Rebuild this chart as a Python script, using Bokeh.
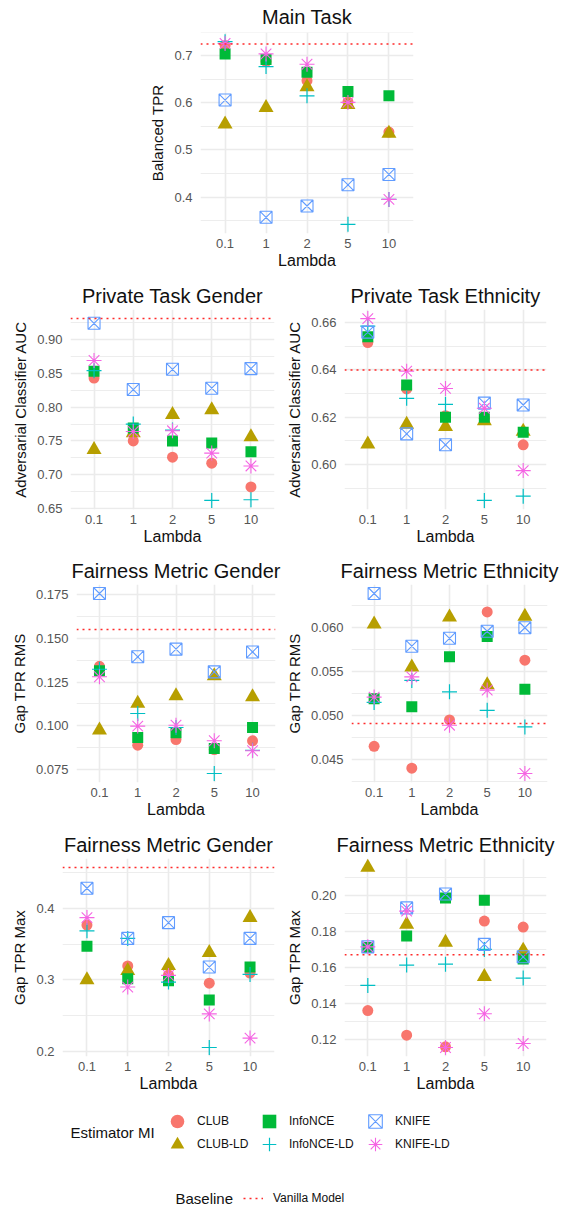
import numpy as np
from bokeh.plotting import figure
from bokeh.models import (FactorRange, Range1d, FixedTicker, PrintfTickFormatter,
                          Span, Legend, LegendItem, Label)
from bokeh.layouts import column, row
from bokeh.embed import file_html
from bokeh.resources import INLINE

# ---------------- data ----------------
LAMBDAS = ["0.1", "1", "2", "5", "10"]
ESTIMATORS = ["CLUB", "CLUB-LD", "InfoNCE", "InfoNCE-LD", "KNIFE", "KNIFE-LD"]

main_task = {
    "CLUB":       [0.722, 0.688, 0.647, 0.602, 0.538],
    "CLUB-LD":    [0.555, 0.590, 0.634, 0.596, 0.535],
    "InfoNCE":    [0.704, 0.692, 0.665, 0.624, 0.615],
    "InfoNCE-LD": [0.730, 0.677, 0.615, 0.342, 0.395],
    "KNIFE":      [0.606, 0.357, 0.381, 0.426, 0.448],
    "KNIFE-LD":   [0.726, 0.704, 0.682, 0.601, 0.395],
}
main_task_baseline = 0.725

private_gender = {
    "CLUB":       [0.843, 0.750, 0.726, 0.717, 0.682],
    "CLUB-LD":    [0.737, 0.762, 0.789, 0.796, 0.756],
    "InfoNCE":    [0.853, 0.769, 0.750, 0.747, 0.734],
    "InfoNCE-LD": [0.854, 0.775, 0.766, 0.662, 0.663],
    "KNIFE":      [0.924, 0.826, 0.856, 0.828, 0.857],
    "KNIFE-LD":   [0.869, 0.764, 0.765, 0.732, 0.713],
}
private_gender_baseline = 0.931

private_ethnicity = {
    "CLUB":       [0.6516, 0.6320, 0.6207, 0.6196, 0.6084],
    "CLUB-LD":    [0.6087, 0.6170, 0.6160, 0.6185, 0.6140],
    "InfoNCE":    [0.6540, 0.6336, 0.6200, 0.6200, 0.6137],
    "InfoNCE-LD": [0.6585, 0.6280, 0.6255, 0.5849, 0.5867],
    "KNIFE":      [0.6560, 0.6130, 0.6084, 0.6260, 0.6252],
    "KNIFE-LD":   [0.6617, 0.6395, 0.6322, 0.6238, 0.5975],
}
private_ethnicity_baseline = 0.640

gap_rms_gender = {
    "CLUB":       [0.1340, 0.0889, 0.0921, 0.0864, 0.0914],
    "CLUB-LD":    [0.0975, 0.1127, 0.1170, 0.1285, 0.1165],
    "InfoNCE":    [0.1314, 0.0933, 0.0960, 0.0870, 0.0990],
    "InfoNCE-LD": [0.1323, 0.1070, 0.0990, 0.0727, 0.0860],
    "KNIFE":      [0.1756, 0.1394, 0.1438, 0.1308, 0.1422],
    "KNIFE-LD":   [0.1280, 0.0998, 0.1003, 0.0914, 0.0857],
}
gap_rms_gender_baseline = 0.155

gap_rms_ethnicity = {
    "CLUB":       [0.0465, 0.0440, 0.0495, 0.0618, 0.0563],
    "CLUB-LD":    [0.0604, 0.0555, 0.0612, 0.0535, 0.0613],
    "InfoNCE":    [0.0519, 0.0510, 0.0567, 0.0590, 0.0530],
    "InfoNCE-LD": [0.0515, 0.0540, 0.0527, 0.0506, 0.0487],
    "KNIFE":      [0.0639, 0.0579, 0.0588, 0.0596, 0.0600],
    "KNIFE-LD":   [0.0521, 0.0544, 0.0489, 0.0529, 0.0434],
}
gap_rms_ethnicity_baseline = 0.0491

gap_max_gender = {
    "CLUB":       [0.3766, 0.3195, 0.3070, 0.2955, 0.3096],
    "CLUB-LD":    [0.3000, 0.3130, 0.3200, 0.3380, 0.3870],
    "InfoNCE":    [0.3470, 0.3016, 0.2990, 0.2720, 0.3180],
    "InfoNCE-LD": [0.3686, 0.3580, 0.2970, 0.2056, 0.3077],
    "KNIFE":      [0.4280, 0.3580, 0.3800, 0.3180, 0.3580],
    "KNIFE-LD":   [0.3870, 0.2900, 0.3063, 0.2525, 0.2187],
}
gap_max_gender_baseline = 0.457

gap_max_ethnicity = {
    "CLUB":       [0.1361, 0.1224, 0.1160, 0.1857, 0.1824],
    "CLUB-LD":    [0.2154, 0.1839, 0.1738, 0.1549, 0.1695],
    "InfoNCE":    [0.1710, 0.1774, 0.1985, 0.1972, 0.1646],
    "InfoNCE-LD": [0.1500, 0.1613, 0.1618, 0.1700, 0.1541],
    "KNIFE":      [0.1714, 0.1930, 0.2007, 0.1728, 0.1659],
    "KNIFE-LD":   [0.1714, 0.1912, 0.1156, 0.1343, 0.1178],
}
gap_max_ethnicity_baseline = 0.167

# tick labels
ticks_main = [0.4, 0.5, 0.6, 0.7]
minor_main = [0.35, 0.45, 0.55, 0.65, 0.75]
ticks_pg = [0.65, 0.70, 0.75, 0.80, 0.85, 0.90]
minor_pg = [0.675, 0.725, 0.775, 0.825, 0.875, 0.925]
ticks_pe = [0.60, 0.62, 0.64, 0.66]
minor_pe = [0.59, 0.61, 0.63, 0.65]
ticks_rg = [0.075, 0.100, 0.125, 0.150, 0.175]
minor_rg = [0.0875, 0.1125, 0.1375, 0.1625]
ticks_re = [0.045, 0.050, 0.055, 0.060]
minor_re = [0.0425, 0.0475, 0.0525, 0.0575, 0.0625]
ticks_mg = [0.2, 0.3, 0.4]
minor_mg = [0.25, 0.35, 0.45]
ticks_me = [0.12, 0.14, 0.16, 0.18, 0.20]
minor_me = [0.13, 0.15, 0.17, 0.19, 0.21]

# ---------------- style ----------------
FONT = "Liberation Sans"
GRID = "#EBEBEB"
TICK_COLOR = "#555555"
BASE_COLOR = "#FF2A2A"

STYLE = {
    "CLUB":       dict(marker="circle", size=11, fill_color="#F8766D", line_color=None),
    "CLUB-LD":    dict(marker="triangle", size=15, fill_color="#B79F00", line_color=None),
    "InfoNCE":    dict(marker="square", size=11, fill_color="#00BA38", line_color=None),
    "InfoNCE-LD": dict(marker="cross", size=15, line_color="#00BFC4", line_width=1.2, fill_color=None),
    "KNIFE":      dict(marker="square_x", size=12, line_color="#619CFF", line_width=1.1, fill_color=None),
    "KNIFE-LD":   dict(marker="asterisk", size=15, line_color="#F564E3", line_width=1.1, fill_color=None),
}

TOTAL_W = 564
HALF_W = 282


def panel(title, ylabel, data, baseline, major, minor, fmt, width, height, bl, br, bt, bb):
    vals = [v for k in ESTIMATORS for v in data[k]] + [baseline]
    lo, hi = min(vals), max(vals)
    pad = (hi - lo) * 0.05
    p = figure(width=width, height=height,
               x_range=FactorRange(factors=LAMBDAS, range_padding=0.1, range_padding_units="absolute"),
               y_range=Range1d(lo - pad, hi + pad),
               output_backend="svg", toolbar_location=None,
               min_border_left=bl, min_border_right=br, min_border_top=bt, min_border_bottom=bb,
               title=title, x_axis_label="Lambda", y_axis_label=ylabel)
    p.outline_line_color = None
    p.background_fill_color = "white"
    p.border_fill_color = "white"
    p.title.text_font = FONT
    p.title.text_font_size = "20px"
    p.title.text_font_style = "normal"
    p.title.text_color = "#111111"
    p.title.align = "center"
    p.title.standoff = 6
    for ax in (p.xaxis[0], p.yaxis[0]):
        ax.axis_line_color = None
        ax.major_tick_line_color = None
        ax.minor_tick_line_color = None
        ax.major_tick_out = 0
        ax.major_tick_in = 0
        ax.minor_tick_out = 0
        ax.major_label_text_font = FONT
        ax.major_label_text_font_size = "13px"
        ax.major_label_text_color = TICK_COLOR
        ax.axis_label_text_font = FONT
        ax.axis_label_text_font_style = "normal"
        ax.axis_label_text_color = "#111111"
    p.xaxis.axis_label_text_font_size = "16px"
    p.yaxis.axis_label_text_font_size = "15px"
    p.xaxis.major_label_standoff = 5
    p.xaxis.axis_label_standoff = 1
    p.yaxis.major_label_standoff = 8
    p.yaxis.axis_label_standoff = 5
    p.yaxis.ticker = FixedTicker(ticks=major, minor_ticks=minor)
    p.yaxis.formatter = PrintfTickFormatter(format=fmt)
    p.xgrid.grid_line_color = GRID
    p.xgrid.grid_line_width = 1.6
    p.ygrid.grid_line_color = GRID
    p.ygrid.grid_line_width = 1.6
    p.ygrid.minor_grid_line_color = GRID
    p.ygrid.minor_grid_line_width = 0.9
    p.add_layout(Span(location=baseline, dimension="width", line_color=BASE_COLOR,
                      line_dash="2 4", line_width=1.5))
    for est in ESTIMATORS:
        p.scatter(x=LAMBDAS, y=data[est], **STYLE[est])
    return p


# row A (page y 0..274)
pA = panel("Main Task", "Balanced TPR", main_task, main_task_baseline,
           ticks_main, minor_main, "%.1f", TOTAL_W, 274, 200, 151, 32, 41)
pA.title.vertical_align = "top"
# row B (274..550)
p2 = panel("Private Task Gender", "Adversarial Classifier AUC", private_gender, private_gender_baseline,
           ticks_pg, minor_pg, "%.2f", HALF_W, 276, 70, 8, 35, 41)
p3 = panel("Private Task Ethnicity", "Adversarial Classifier AUC", private_ethnicity, private_ethnicity_baseline,
           ticks_pe, minor_pe, "%.2f", HALF_W, 276, 62, 18, 35, 41)
# row C (550..824)
p4 = panel("Fairness Metric Gender", "Gap TPR RMS", gap_rms_gender, gap_rms_gender_baseline,
           ticks_rg, minor_rg, "%.3f", HALF_W, 274, 76, 7, 34, 42)
p5 = panel("Fairness Metric Ethnicity", "Gap TPR RMS", gap_rms_ethnicity, gap_rms_ethnicity_baseline,
           ticks_re, minor_re, "%.3f", HALF_W, 274, 68, 17, 34, 42)
# row D (824..1103)
p6 = panel("Fairness Metric Gender", "Gap TPR Max", gap_max_gender, gap_max_gender_baseline,
           ticks_mg, minor_mg, "%.1f", HALF_W, 279, 62, 8, 34, 47)
p7 = panel("Fairness Metric Ethnicity", "Gap TPR Max", gap_max_ethnicity, gap_max_ethnicity_baseline,
           ticks_me, minor_me, "%.2f", HALF_W, 279, 62, 18, 34, 47)

# ---------------- legend area ----------------
LH = 1210 - 274 - 276 - 274 - 279  # 107
lf = figure(width=TOTAL_W, height=LH, x_range=Range1d(0, 1), y_range=Range1d(0, 1),
            output_backend="svg", toolbar_location=None,
            x_axis_location=None, y_axis_location=None,
            min_border_left=0, min_border_right=0, min_border_top=0, min_border_bottom=0)
lf.grid.visible = False
lf.outline_line_color = None
lf.border_fill_color = "white"
lf.background_fill_color = "white"

G = 34
col_cx = [177, 269, 375]
row_cy = [18, 41]
for i, est in enumerate(ESTIMATORS):
    r = lf.scatter(x=np.array([np.nan]), y=np.array([np.nan]), **STYLE[est])
    cx = col_cx[i // 2]
    cy = row_cy[i % 2]
    leg = Legend(items=[LegendItem(label=est, renderers=[r])],
                 location=(cx - G / 2, LH - cy - G / 2),
                 glyph_width=G, glyph_height=G, label_standoff=3,
                 padding=0, margin=0, spacing=0, border_line_color=None,
                 background_fill_alpha=0, label_text_font=FONT,
                 label_text_font_size="12px", label_text_color="#111111")
    lf.add_layout(leg)

lf.add_layout(Label(x=70, y=LH - 29, x_units="screen", y_units="screen", text="Estimator MI",
                    text_font=FONT, text_font_size="15px", text_baseline="middle",
                    text_color="#111111"))

base_y = 95
rb = lf.line(x=np.array([np.nan, np.nan]), y=np.array([np.nan, np.nan]),
             line_color=BASE_COLOR, line_dash="2 4", line_width=1.5)
lf.add_layout(Legend(items=[LegendItem(label="Vanilla Model", renderers=[rb])],
                     location=(243, LH - base_y - 10), glyph_width=20, glyph_height=20,
                     label_standoff=10, padding=0, margin=0, spacing=0,
                     border_line_color=None, background_fill_alpha=0,
                     label_text_font=FONT, label_text_font_size="12px",
                     label_text_color="#111111"))
lf.add_layout(Label(x=175, y=LH - base_y, x_units="screen", y_units="screen", text="Baseline",
                    text_font=FONT, text_font_size="15px", text_baseline="middle",
                    text_color="#111111"))

layout = column(row(pA), row(p2, p3), row(p4, p5), row(p6, p7), row(lf), spacing=0)

open("out.html", "w").write(file_html(layout, INLINE))
